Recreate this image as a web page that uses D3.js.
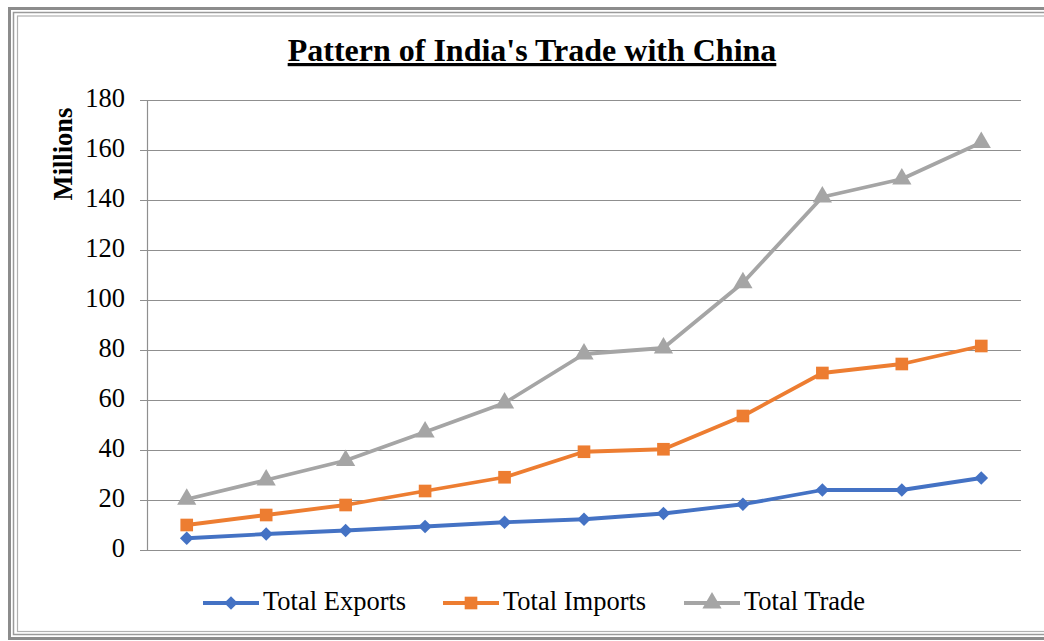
<!DOCTYPE html>
<html>
<head>
<meta charset="utf-8">
<script src="https://cdn.jsdelivr.net/npm/d3@7"></script>
<style>
  body { margin: 0; background: #fff; }
  svg { display: block; font-family: "Liberation Serif", "Times New Roman", serif; }
</style>
</head>
<body>
<div id="chart"></div>
<script>
// categories (no labels shown on the x axis in the original)
var periods = ["P1","P2","P3","P4","P5","P6","P7","P8","P9","P10","P11"];
var yTicks = [0,20,40,60,80,100,120,140,160,180];

var totalExports = [4.7, 6.4, 7.8, 9.4, 11.1, 12.3, 14.6, 18.3, 24.0, 24.0, 28.8];
var totalImports = [10.0, 14.0, 18.0, 23.6, 29.1, 39.3, 40.3, 53.6, 70.8, 74.4, 81.6];
var totalTrade   = [20.3, 28.0, 35.8, 47.2, 58.8, 78.4, 80.8, 106.9, 141.2, 148.4, 163.0];

var seriesNames = ["Total Exports", "Total Imports", "Total Trade"];
var colors = ["#4472C4", "#ED7D31", "#A5A5A5"];
var shapes = [d3.symbolSquare, d3.symbolSquare, d3.symbolTriangle];
var sizes = [92, 160, 160];
var rot = [45, 0, 0];

var W = 1044, H = 641;
var margin = {left: 147, right: 23, top: 100, bottom: 91};

var svg = d3.select("#chart").append("svg")
    .attr("width", W)
    .attr("height", H);

// frame (triple grey border)
svg.append("rect").attr("x", 9.5).attr("y", 8.5).attr("width", 1040).attr("height", 630)
    .attr("fill", "none").attr("stroke", "#8c8c8c").attr("stroke-width", 3);
svg.append("rect").attr("x", 13.5).attr("y", 12.5).attr("width", 1040).attr("height", 622)
    .attr("fill", "none").attr("stroke", "#9a9a9a").attr("stroke-width", 1.5);
svg.append("rect").attr("x", 17.5).attr("y", 16).attr("width", 1040).attr("height", 615.5)
    .attr("fill", "none").attr("stroke", "#b0b0b0").attr("stroke-width", 1.2);

var x = d3.scaleBand()
    .domain(periods)
    .range([margin.left, W - margin.right]);

var y = d3.scaleLinear()
    .domain([0, 180])
    .range([H - margin.bottom, margin.top]);

// gridlines
svg.append("g")
    .selectAll("line")
    .data(yTicks)
    .enter().append("line")
    .attr("x1", margin.left - 7)
    .attr("x2", W - margin.right)
    .attr("y1", function(d){ return Math.round(y(d)) + 0.5 })
    .attr("y2", function(d){ return Math.round(y(d)) + 0.5 })
    .attr("stroke", "#8f8f8f")
    .attr("stroke-width", 1.2);

// vertical axis line
svg.append("line")
    .attr("x1", margin.left + 0.5).attr("x2", margin.left + 0.5)
    .attr("y1", y(180)).attr("y2", y(0))
    .attr("stroke", "#8f8f8f").attr("stroke-width", 1.2);

// y tick labels
svg.append("g")
    .selectAll("text")
    .data(yTicks)
    .enter().append("text")
    .attr("x", 125)
    .attr("y", function(d){ return y(d) + 1 })
    .attr("text-anchor", "end")
    .attr("dominant-baseline", "middle")
    .attr("font-size", 26.5)
    .attr("fill", "#000")
    .text(function(d){ return d });

// y axis title
svg.append("text")
    .attr("transform", "translate(72,154) rotate(-90)")
    .attr("text-anchor", "middle")
    .attr("font-size", 26.5)
    .attr("font-weight", "bold")
    .text("Millions");

// title
svg.append("text")
    .attr("x", 532)
    .attr("y", 61)
    .attr("text-anchor", "middle")
    .attr("font-size", 32)
    .attr("font-weight", "bold")
    .attr("text-decoration", "underline")
    .text("Pattern of India's Trade with China");

var data = [totalExports, totalImports, totalTrade];
var line = d3.line()
    .x(function(d, i){ return x(periods[i]) + x.bandwidth() / 2 })
    .y(function(d){ return y(d) });

// draw trade first so exports sit on top like the original
for (var s = 2; s >= 0; s--) {
    svg.append("path")
        .datum(data[s])
        .attr("d", line)
        .attr("fill", "none")
        .attr("stroke", colors[s])
        .attr("stroke-width", 3.8)
        .attr("stroke-linejoin", "round");

    svg.append("g")
        .selectAll("path")
        .data(data[s])
        .enter().append("path")
        .attr("d", d3.symbol().type(shapes[s]).size(sizes[s]))
        .attr("transform", function(d, i){
            return "translate(" + (x(periods[i]) + x.bandwidth() / 2) + "," + y(d) + ") rotate(" + rot[s] + ")"
        })
        .attr("fill", colors[s]);
}

// legend
var legX = [203, 443, 684];
var legY = 603;
for (var k = 0; k < 3; k++) {
    var lg = svg.append("g").attr("transform", "translate(" + legX[k] + "," + legY + ")");
    lg.append("line")
        .attr("x1", 0).attr("x2", 56)
        .attr("y1", 0).attr("y2", 0)
        .attr("stroke", colors[k])
        .attr("stroke-width", 3.8);
    lg.append("path")
        .attr("d", d3.symbol().type(shapes[k]).size(sizes[k]))
        .attr("transform", "translate(28,0) rotate(" + rot[k] + ")")
        .attr("fill", colors[k]);
    lg.append("text")
        .attr("x", 60)
        .attr("y", 1)
        .attr("dominant-baseline", "middle")
        .attr("font-size", 26.5)
        .text(seriesNames[k]);
}
</script>
</body>
</html>
